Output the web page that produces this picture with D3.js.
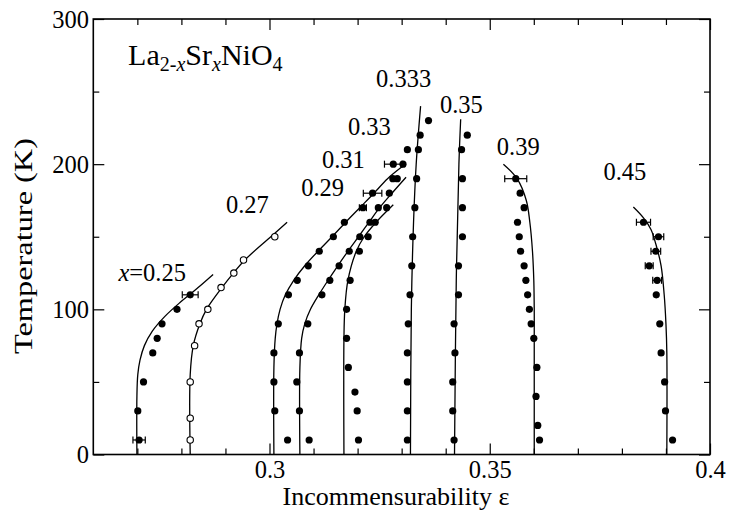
<!DOCTYPE html>
<html><head><meta charset="utf-8">
<script src="https://cdn.jsdelivr.net/npm/d3@7"></script>
<style>body{margin:0;background:#fff}svg{display:block}</style>
</head><body><svg id="c" width="731" height="511"></svg>
<script>
// ---- data: [T (K), epsilon] ----
const xMajorTicks = [0.3, 0.35, 0.4];
const xMinorTicks = [0.27,0.28,0.29,0.31,0.32,0.33,0.34,0.36,0.37,0.38,0.39];
const yMajorTicks = [0, 100, 200, 300];
const yMinorTicks = [50, 150, 250];

const pts025 = [[10,0.2704],[30,0.2701],[50,0.2714],[70,0.2735],[80,0.2745],[90,0.2756],[100,0.2790],[110,0.2820]];
const err025 = [[10,0.2704,0.0014],[110,0.2820,0.0018]];
const fit025 = [[0,0.2699],[40,0.2699],[55,0.2701],[65,0.2706],[75,0.2716],[85,0.2734],[95,0.2762],[105,0.2798],[115,0.2838],[124,0.2872]];

const pts027 = [[10,0.2820],[25,0.2820],[50,0.2820],[75,0.2830],[90,0.2840],[100,0.2860],[115,0.2890],[125,0.2919],[134,0.2941],[150,0.3012]];
const fit027 = [[0,0.2820],[55,0.2820],[75,0.2827],[90,0.2842],[100,0.2857],[115,0.2892],[125,0.2918],[134,0.2944],[150,0.3003],[160,0.3040]];

const pts029 = [[10,0.3202],[30,0.3199],[43,0.3194],[60,0.3179],[80,0.3175],[100,0.3175],[120,0.3183],[140,0.3204],[150,0.3224],[160,0.3240],[170,0.3266]];
const fit029 = [[0,0.3169],[80,0.3169],[100,0.3171],[120,0.3178],[140,0.3197],[150,0.3215],[160,0.3242],[172,0.3281]];

const pts031 = [[10,0.3090],[30,0.3068],[50,0.3062],[70,0.3068],[90,0.3087],[110,0.3119],[120,0.3137],[130,0.3158],[140,0.3181],[150,0.3205],[160,0.3228],[170,0.3247],[180,0.3272],[190,0.3290],[200,0.3303]];
const fit031 = [[0,0.3069],[60,0.3069],[80,0.3073],[90,0.3080],[100,0.3093],[110,0.3112],[120,0.3133],[130,0.3155],[140,0.3178],[150,0.3202],[160,0.3226],[170,0.3250],[180,0.3278],[191,0.3310]];

const pts033 = [[10,0.3041],[30,0.3012],[50,0.3010],[70,0.3010],[90,0.3020],[110,0.3043],[120,0.3063],[130,0.3088],[140,0.3113],[150,0.3145],[160,0.3170],[170,0.3212],[180,0.3234],[190,0.3280],[200,0.3281],[210,0.3313]];
const err033 = [[170,0.3212,0.0008],[180,0.3234,0.0021],[200,0.3281,0.0020]];
const fit033 = [[0,0.3010],[60,0.3010],[80,0.3013],[90,0.3017],[100,0.3024],[110,0.3036],[120,0.3055],[130,0.3080],[140,0.3110],[150,0.3142],[160,0.3173],[170,0.3205],[180,0.3237],[190,0.3268],[198,0.3300]];

const pts0333 = [[10,0.3313],[30,0.3313],[50,0.3313],[70,0.3313],[90,0.3315],[110,0.3319],[130,0.3323],[150,0.3325],[170,0.3330],[190,0.3334],[210,0.3338],[220,0.3342],[230,0.3361]];
const fit0333 = [[0,0.3320],[100,0.3322],[160,0.3327],[200,0.3333],[240,0.3343]];

const pts035 = [[10,0.3419],[30,0.3416],[50,0.3416],[70,0.3421],[90,0.3419],[110,0.3429],[130,0.3429],[150,0.3438],[170,0.3438],[190,0.3438],[210,0.3436],[220,0.3449]];
const fit035 = [[0,0.3420],[120,0.3424],[200,0.3430],[231,0.3434]];

const pts039 = [[10,0.3613],[20,0.3609],[40,0.3605],[60,0.3607],[80,0.3600],[90,0.3594],[100,0.3590],[110,0.3586],[120,0.3582],[130,0.3578],[140,0.3570],[150,0.3567],[160,0.3563],[170,0.3578],[180,0.3569],[190,0.3559]];
const err039 = [[190,0.3559,0.0025]];
const fit039 = [[0,0.3601],[80,0.3601],[100,0.3601],[120,0.3600],[140,0.3597],[160,0.3591],[175,0.3583],[190,0.3562],[200,0.3531]];

const pts045 = [[10,0.3915],[30,0.3899],[50,0.3897],[70,0.3889],[90,0.3886],[110,0.3878],[120,0.3880],[130,0.3862],[140,0.3877],[150,0.3883],[160,0.3849]];
const err045 = [[120,0.3880,0.0010],[130,0.3862,0.0009],[140,0.3877,0.0011],[150,0.3883,0.0012],[160,0.3849,0.0016]];
const fit045 = [[0,0.3902],[70,0.3902],[90,0.3900],[110,0.3896],[130,0.3889],[145,0.3877],[155,0.3866],[163,0.3849],[170.5,0.3826]];

// labels: [text, epsilon (left edge), T (baseline)]
const seriesLabels = [["0.27",0.2901,166.5],["0.29",0.3072,177.8],["0.31",0.3119,197.6],["0.33",0.3178,220.3],
  ["0.333",0.3242,253.4],["0.35",0.3387,235.3],["0.39",0.3516,206.6],["0.45",0.3758,189.3]];

// ---- drawing ----
const FONT = "'Liberation Serif', 'Times New Roman', Times, serif";
const svg = d3.select("#c");
const x = d3.scaleLinear().domain([0.26, 0.4]).range([93.3, 710]);
const y = d3.scaleLinear().domain([0, 300]).range([454.5, 19]);
const fs = 24.5;
const fmt = d => String(+d.toFixed(2));

function axis(gen, ticks, size, labels, transform, pad){
  const g = svg.append("g").attr("transform", transform)
    .call(gen.tickValues(ticks).tickSize(size).tickPadding(pad).tickFormat(labels ? fmt : ""));
  g.select(".domain").remove();
  g.selectAll("line").attr("stroke","#000").attr("stroke-width",1.2);
  g.selectAll("text").style("font-size", fs+"px").style("font-family", FONT).attr("fill","#000");
  return g;
}
const B = "translate(0,454.5)", T = "translate(0,19)", L = "translate(93.3,0)", R = "translate(710,0)";
axis(d3.axisBottom(x), xMajorTicks, -11, true, B, 6.5);
axis(d3.axisBottom(x), xMinorTicks, -6, false, B, 3);
axis(d3.axisTop(x), xMajorTicks, -11, false, T, 3);
axis(d3.axisTop(x), xMinorTicks, -6, false, T, 3);
const gl = axis(d3.axisLeft(y), yMajorTicks, -11, true, L, 4.3);
gl.selectAll("text").attr("dy","0.34em");
axis(d3.axisLeft(y), yMinorTicks, -6, false, L, 3);
axis(d3.axisRight(y), yMajorTicks, -11, false, R, 3);
axis(d3.axisRight(y), yMinorTicks, -6, false, R, 3);

svg.append("rect").attr("x", x(0.26)).attr("y", y(300))
  .attr("width", x(0.4)-x(0.26)).attr("height", y(0)-y(300))
  .attr("fill","none").attr("stroke","#000").attr("stroke-width",1.6);

// fitted curves
const line = d3.line().x(d => x(d[1])).y(d => y(d[0])).curve(d3.curveCatmullRom.alpha(0.5));
[fit025, fit027, fit029, fit031, fit033, fit0333, fit035, fit039, fit045].forEach(f => {
  svg.append("path").attr("d", line(f)).attr("fill","none").attr("stroke","#000").attr("stroke-width",1.3);
});

// error bars
[err025, err033, err039, err045].forEach(es => {
  es.forEach(([t, e, d]) => {
    const g = svg.append("g").attr("stroke","#000").attr("stroke-width",1.2);
    g.append("line").attr("x1", x(e-d)).attr("x2", x(e+d)).attr("y1", y(t)).attr("y2", y(t));
    g.append("line").attr("x1", x(e-d)).attr("x2", x(e-d)).attr("y1", y(t)-3.5).attr("y2", y(t)+3.5);
    g.append("line").attr("x1", x(e+d)).attr("x2", x(e+d)).attr("y1", y(t)-3.5).attr("y2", y(t)+3.5);
  });
});

// filled points
[pts025, pts029, pts031, pts033, pts0333, pts035, pts039, pts045].forEach(ps => {
  svg.append("g").selectAll("circle").data(ps).join("circle")
    .attr("cx", d => x(d[1])).attr("cy", d => y(d[0])).attr("r", 3.6).attr("fill","#000");
});
// open points
svg.append("g").selectAll("circle").data(pts027).join("circle")
  .attr("cx", d => x(d[1])).attr("cy", d => y(d[0])).attr("r", 3.2)
  .attr("fill","#fff").attr("stroke","#000").attr("stroke-width",1.1);

function txt(xp, yp, size){
  return svg.append("text").attr("x", xp).attr("y", yp).attr("fill","#000")
    .style("font-family", FONT).style("font-size", size+"px");
}
// series labels
seriesLabels.forEach(([t, e, T]) => txt(x(e), y(T), fs).text(t));
const lab25 = txt(x(0.2657), y(119.2), fs);
lab25.append("tspan").style("font-style","italic").text("x");
lab25.append("tspan").text("=0.25");

// compound label
const tt = txt(x(0.2679), y(268.6), 30);
tt.append("tspan").text("La");
tt.append("tspan").attr("dy", 6).style("font-size","20px").text("2-");
tt.append("tspan").style("font-size","20px").style("font-style","italic").text("x");
tt.append("tspan").attr("dy", -6).text("Sr");
tt.append("tspan").attr("dy", 6).style("font-size","20px").style("font-style","italic").text("x");
tt.append("tspan").attr("dy", -6).text("NiO");
tt.append("tspan").attr("dy", 6).style("font-size","20px").text("4");

// axis titles
txt(396, 505, 26).attr("text-anchor","middle").text("Incommensurability ε");
txt(0, 0, 26).attr("transform","translate(32,246) rotate(-90)").attr("text-anchor","middle")
  .attr("textLength", 216).attr("lengthAdjust","spacingAndGlyphs").text("Temperature (K)");
</script></body></html>
